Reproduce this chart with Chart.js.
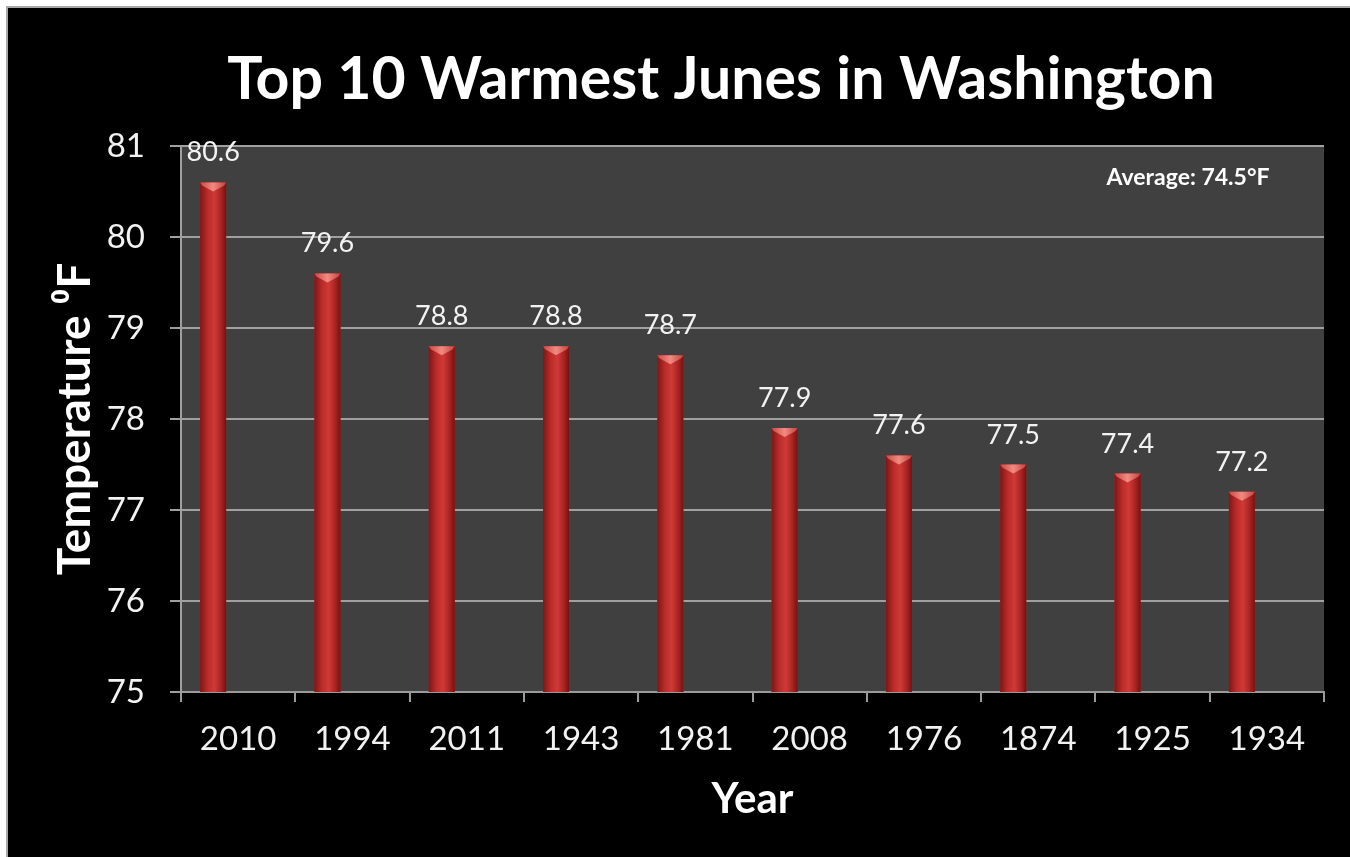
<!DOCTYPE html>
<html>
<head>
<meta charset="utf-8">
<script src="https://cdn.jsdelivr.net/npm/chart.js@4/dist/chart.umd.min.js"></script>
<style>
  html, body { margin: 0; padding: 0; background: #fff; overflow: hidden; }
  #wrap { position: absolute; left: 6px; top: 6px; border-left: 2px solid #a8a8a8; border-top: 2px solid #a8a8a8; background: #000; }
  canvas { display: block; }
</style>
</head>
<body>
<div id="wrap"><canvas id="warm-june-chart" width="1342" height="849"></canvas></div>
<script>
// data
const years = ["2010", "1994", "2011", "1943", "1981", "2008", "1976", "1874", "1925", "1934"];
const juneTemps = [80.6, 79.6, 78.8, 78.8, 78.7, 77.9, 77.6, 77.5, 77.4, 77.2];
const yTicks = [75, 76, 77, 78, 79, 80, 81];
const chartTitle = "Top 10 Warmest Junes in Washington";
const averageNote = "Average: 74.5°F";

const ctx = document.querySelector("#warm-june-chart");

// black page + dark grey plot area
const backdrop = {
  id: "backdrop",
  beforeDraw(chart) {
    const { ctx, chartArea: a, width, height } = chart;
    ctx.save();
    ctx.fillStyle = "#000";
    ctx.fillRect(0, 0, width, height);
    ctx.fillStyle = "#404040";
    ctx.fillRect(a.left, a.top, a.right - a.left, a.bottom - a.top);
    ctx.restore();
  },
};

// shade each bar like a red cylinder and put its value above it
const cylinders = {
  id: "cylinders",
  afterDatasetsDraw(chart) {
    const { ctx, chartArea } = chart;
    const meta = chart.getDatasetMeta(0);
    ctx.save();
    meta.data.forEach((bar, i) => {
      const { x, y, base, width } = bar.getProps(["x", "y", "base", "width"], true);
      const bottom = Math.min(base, chartArea.bottom);
      const l = x - width / 2;
      const r = x + width / 2;
      const g = ctx.createLinearGradient(l, 0, r, 0);
      g.addColorStop(0, "#7e1616");
      g.addColorStop(0.3, "#bb2c2a");
      g.addColorStop(0.55, "#cf3a36");
      g.addColorStop(0.8, "#a82422");
      g.addColorStop(1, "#741212");
      ctx.fillStyle = g;
      ctx.fillRect(l, y, width, bottom - y);

      const cap = ctx.createLinearGradient(l, 0, r, 0);
      cap.addColorStop(0, "#c84a46");
      cap.addColorStop(0.5, "#f28a80");
      cap.addColorStop(1, "#c04440");
      ctx.fillStyle = cap;
      ctx.beginPath();
      ctx.moveTo(l, y);
      ctx.lineTo(r, y);
      ctx.lineTo(r - 2, y + 3);
      ctx.lineTo(x, y + 9);
      ctx.lineTo(l + 2, y + 3);
      ctx.closePath();
      ctx.fill();

      ctx.fillStyle = "#f2f2f2";
      ctx.font = "27px Lato";
      ctx.textAlign = "center";
      ctx.textBaseline = "alphabetic";
      ctx.fillText(juneTemps[i].toFixed(1), x, y - 21);
    });
    ctx.restore();
  },
};

// big title and the average note
const captions = {
  id: "captions",
  afterDraw(chart) {
    const { ctx, chartArea: a } = chart;
    ctx.save();
    ctx.fillStyle = "#fff";
    ctx.textAlign = "center";
    ctx.textBaseline = "alphabetic";
    ctx.font = "bold 59px Lato";
    ctx.fillText(chartTitle, 713, 91);
    ctx.font = "bold 23px Lato";
    ctx.fillText(averageNote, a.right - 136, a.top + 39);
    ctx.restore();
  },
};

new Chart(ctx, {
  type: "bar",
  data: {
    labels: years,
    datasets: [
      {
        label: "June temperature",
        data: juneTemps,
        backgroundColor: "#b02a28",
        categoryPercentage: 0.875,
        barPercentage: 0.52,
      },
      {
        // empty slot so the bars sit left of each year, like the original
        label: "",
        data: [],
        categoryPercentage: 0.875,
        barPercentage: 0.52,
      },
    ],
  },
  options: {
    responsive: false,
    animation: false,
    layout: { padding: { top: 138, right: 26, bottom: 0, left: 0 } },
    plugins: {
      legend: { display: false },
      tooltip: { enabled: false },
      title: { display: false },
    },
    scales: {
      x: {
        grid: { drawOnChartArea: false, color: "#9a9a9a", lineWidth: 2, tickLength: 10 },
        border: { color: "#9a9a9a", width: 2 },
        ticks: { color: "#f2f2f2", font: { family: "Lato", size: 33 }, padding: 18, maxRotation: 0 },
        title: {
          display: true,
          text: "Year",
          color: "#fff",
          font: { family: "Lato", size: 42, weight: "bold" },
          padding: { top: 0, bottom: 32 },
        },
        afterFit: (s) => { s.height = 165; },
      },
      y: {
        min: 75,
        max: 81,
        afterBuildTicks: (s) => { s.ticks = yTicks.map((v) => ({ value: v })); },
        grid: { color: "#a0a0a0", lineWidth: 2, tickLength: 11 },
        border: { color: "#a0a0a0", width: 2 },
        ticks: { color: "#f2f2f2", font: { family: "Lato", size: 33 }, padding: 25 },
        title: {
          display: true,
          text: "Temperature ⁰F",
          color: "#fff",
          font: { family: "Lato", size: 46, weight: "bold" },
          padding: { top: 40, bottom: 0 },
        },
        afterFit: (s) => { s.width = 173; },
      },
    },
  },
  plugins: [backdrop, cylinders, captions],
});
</script>
</body>
</html>
